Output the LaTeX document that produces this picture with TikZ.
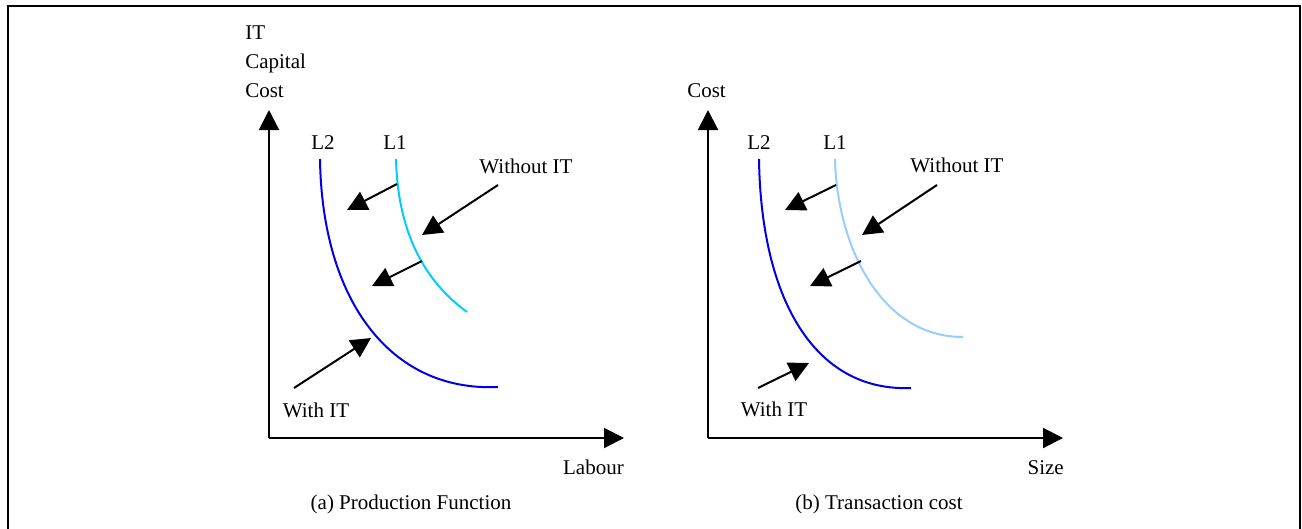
\documentclass[tikz,border=0pt]{standalone}
\usepackage{fontspec}
\setmainfont{Liberation Serif}
\usetikzlibrary{arrows.meta}
\definecolor{curvedark}{RGB}{0,0,230}
\definecolor{curvecyan}{RGB}{0,204,255}
\definecolor{curvelight}{RGB}{153,204,255}
\tikzset{
  lbl/.style={inner sep=0pt, text height=0.66em, text depth=0pt, font=\fontsize{15.75}{19}\selectfont},
  axisline/.style={line width=1.5pt, -{Triangle[length=15pt,width=15pt]}},
  shiftarrow/.style={line width=1.5pt, -{Triangle[length=15pt,width=15pt]}},
  curvea/.style={line width=1.5pt},
  frameline/.style={line width=1.6pt}
}
\begin{document}
\begin{tikzpicture}[x=0.75pt,y=-0.75pt]
\useasboundingbox (0,0) rectangle (1302,528);
% frame
\draw[frameline] (8,540) -- (8,6) -- (1300,6) -- (1300,540);

% ---------- panel (a) ----------
\coordinate (oa) at (269,438);
\coordinate (ya) at (269,110);
\coordinate (xa) at (624,438);
\draw[axisline] (oa) -- (ya);
\draw[axisline] (oa) -- (xa);
\node[lbl, anchor=west] (ita) at (245,35) {IT};
\node[lbl, anchor=west] (capa) at (245,64) {Capital};
\node[lbl, anchor=west] (costa) at (245,93) {Cost};
\node[lbl, anchor=east] (labour) at (624,470) {Labour};
\node[lbl] (capta) at (411,505) {(a) Production Function};
\node[lbl] (l2a) at (323,145) {L2};
\node[lbl] (l1a) at (395,145) {L1};
\node[lbl] (woa) at (526,169) {Without IT};
\node[lbl] (wia) at (316,413) {With IT};

\draw[curvea, curvedark] (320,159) .. controls (322,300) and (390,392) .. (498,387);
\draw[curvea, curvecyan] (396,159) .. controls (398,240) and (430,285) .. (467,312);

\coordinate (a1s) at (397,184); \coordinate (a1t) at (347,210);
\coordinate (a2s) at (422,261); \coordinate (a2t) at (372,286);
\coordinate (a3s) at (498,185); \coordinate (a3t) at (422,235);
\coordinate (a4s) at (294,388); \coordinate (a4t) at (371,338);
\draw[shiftarrow] (a1s) -- (a1t);
\draw[shiftarrow] (a2s) -- (a2t);
\draw[shiftarrow] (a3s) -- (a3t);
\draw[shiftarrow] (a4s) -- (a4t);

% ---------- panel (b) ----------
\coordinate (ob) at (708,438);
\coordinate (yb) at (708,110);
\coordinate (xb) at (1063,438);
\draw[axisline] (ob) -- (yb);
\draw[axisline] (ob) -- (xb);
\node[lbl, anchor=west] (costb) at (687,93) {Cost};
\node[lbl, anchor=east] (size) at (1064,470) {Size};
\node[lbl] (captb) at (879,505) {(b) Transaction cost};
\node[lbl] (l2b) at (759,145) {L2};
\node[lbl] (l1b) at (835,145) {L1};
\node[lbl] (wob) at (957,168) {Without IT};
\node[lbl] (wib) at (774,412) {With IT};

\draw[curvea, curvedark] (759,159) .. controls (761,300) and (815,392) .. (911,388);
\draw[curvea, curvelight] (835,159) .. controls (837,245) and (880,337) .. (963,337);

\coordinate (b1s) at (836,185); \coordinate (b1t) at (785,210);
\coordinate (b2s) at (861,261); \coordinate (b2t) at (810,286);
\coordinate (b3s) at (937,185); \coordinate (b3t) at (862,235);
\coordinate (b4s) at (758,388); \coordinate (b4t) at (809,363);
\draw[shiftarrow] (b1s) -- (b1t);
\draw[shiftarrow] (b2s) -- (b2t);
\draw[shiftarrow] (b3s) -- (b3t);
\draw[shiftarrow] (b4s) -- (b4t);
\end{tikzpicture}
\end{document}
